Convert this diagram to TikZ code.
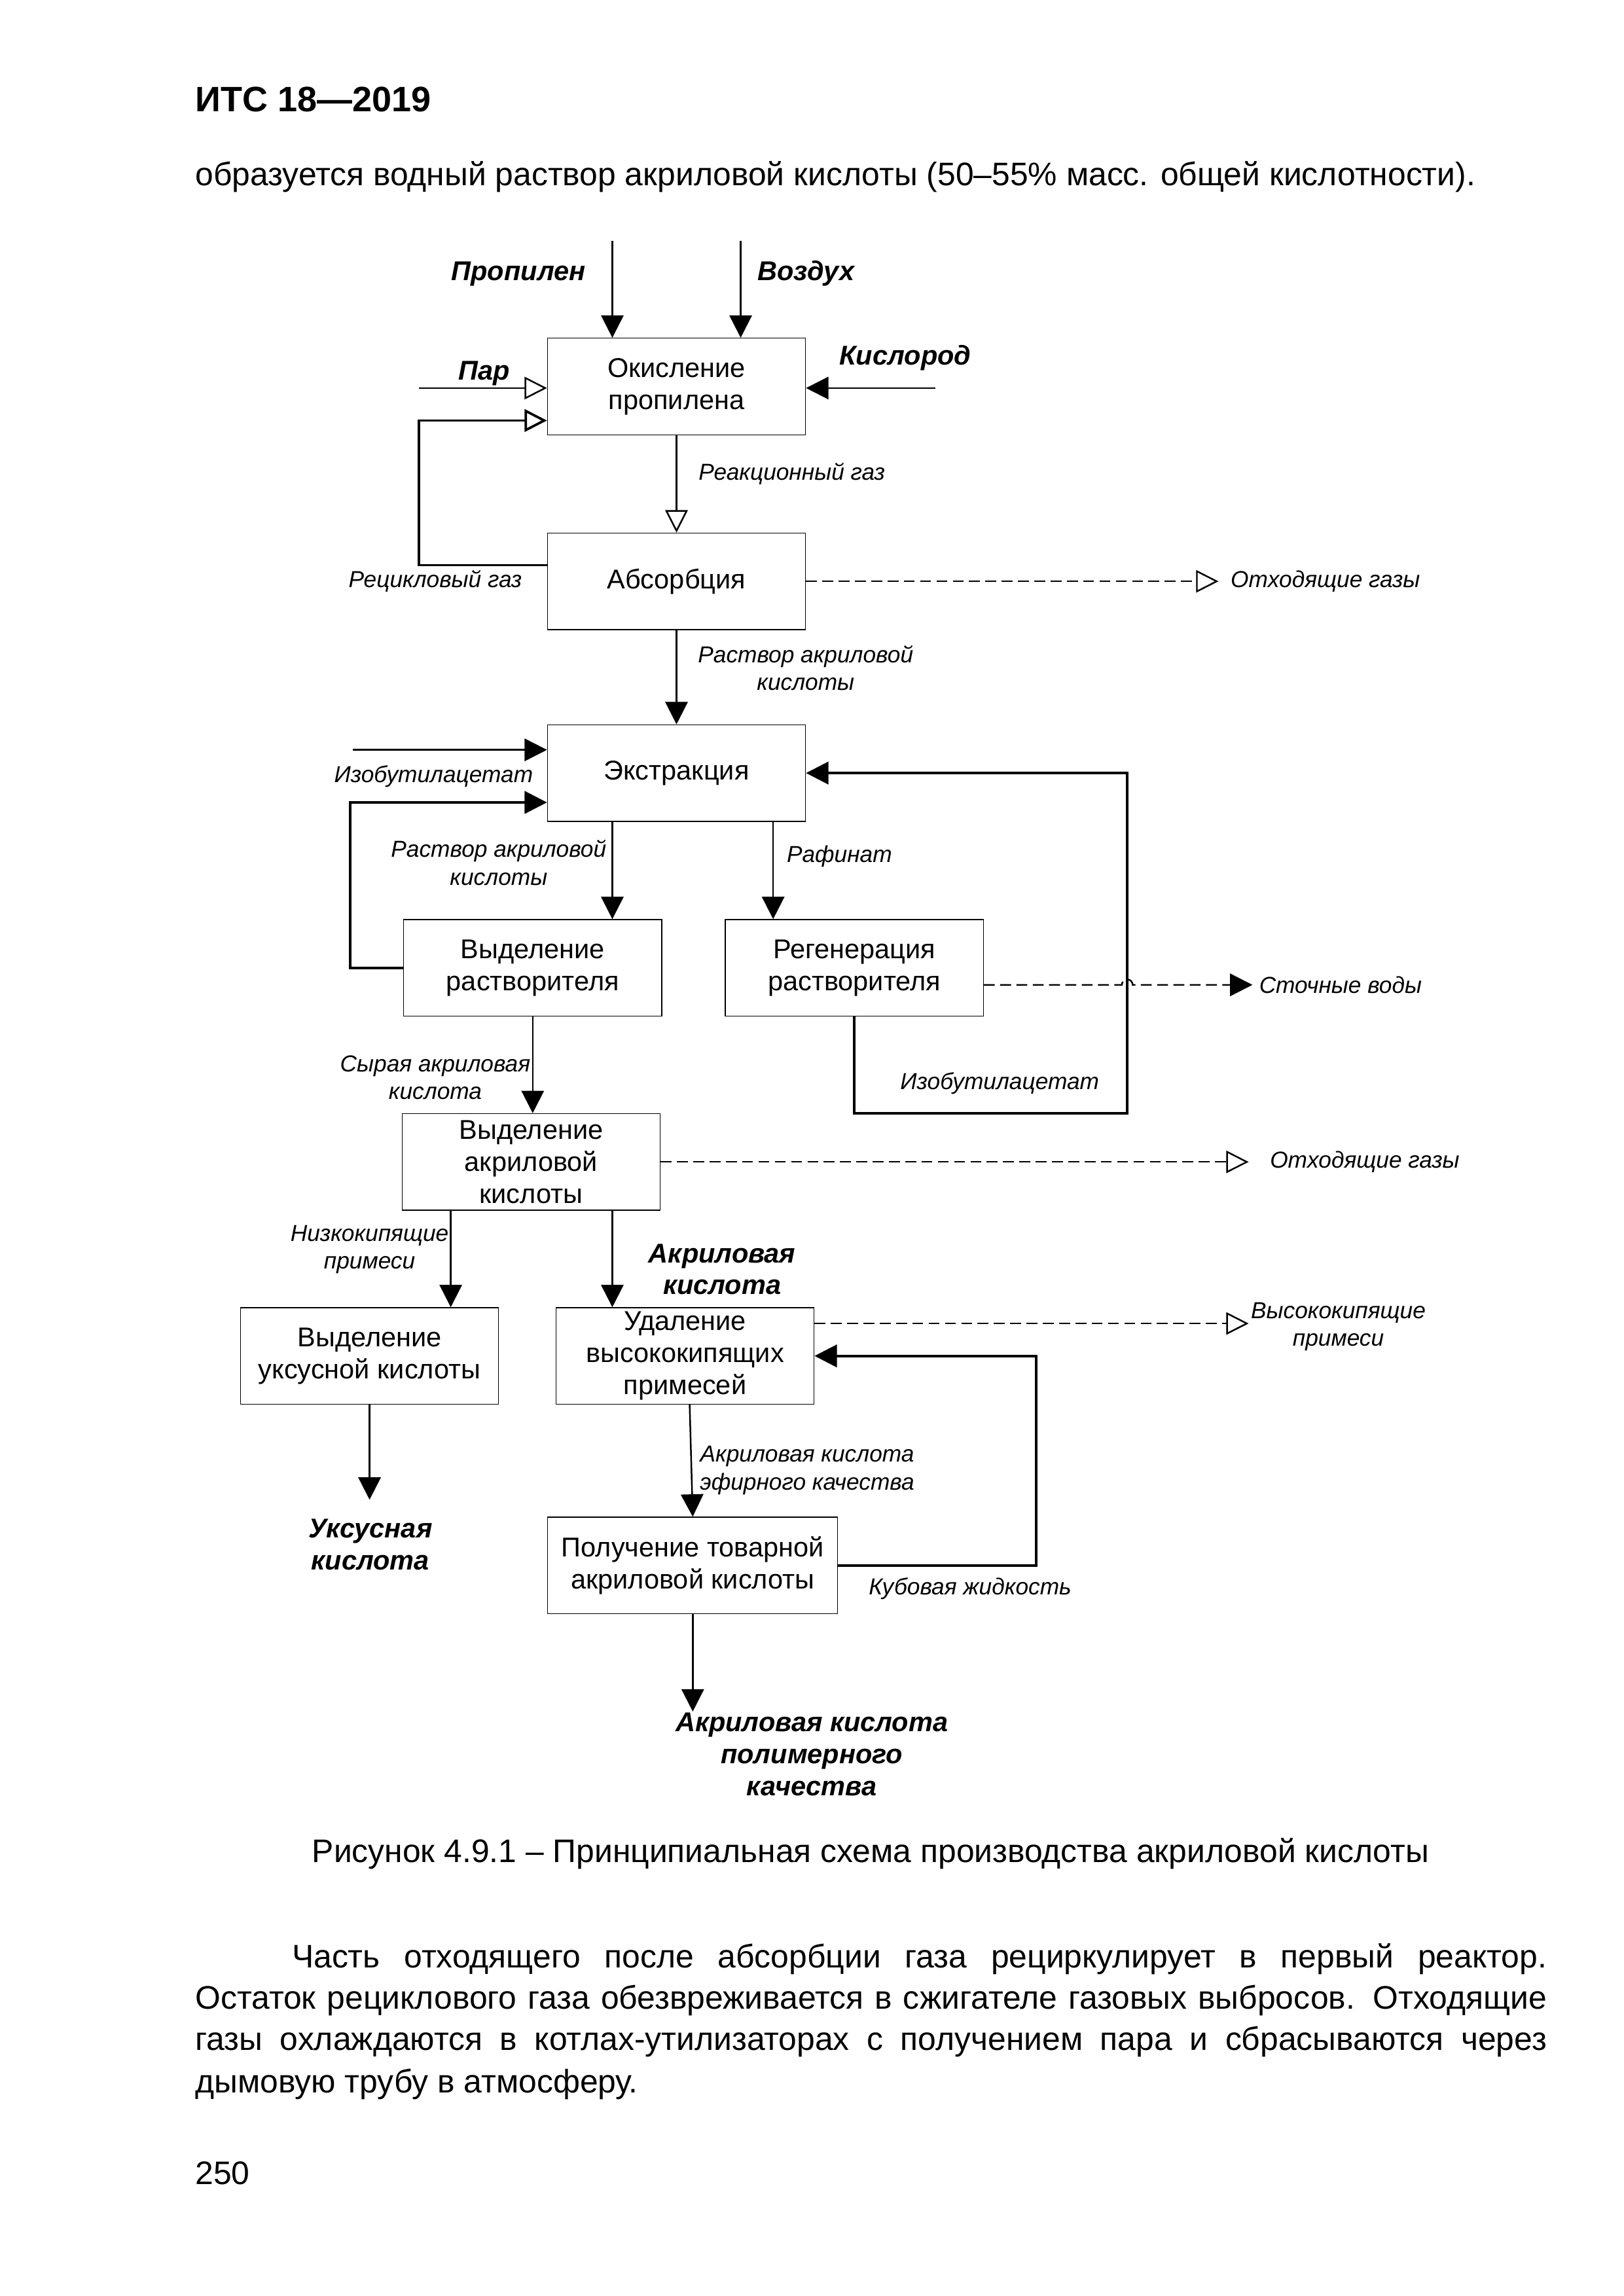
\documentclass[tikz,border=0pt]{standalone}
\usepackage{fontspec}
\setmainfont{Liberation Sans}
\usetikzlibrary{positioning, arrows.meta, calc}

\begin{document}
\begin{tikzpicture}[
    procbox/.style={rectangle, draw=black, line width=0.3pt, minimum width=3.34cm,
                    minimum height=1.25cm, align=center, inner sep=1pt,
                    font=\fontsize{10}{11.8}\selectfont},
    arrow/.style={-{Triangle[length=2.9mm, width=2.9mm]}, line width=0.6pt},
    openarrow/.style={-{Triangle[open, length=2.9mm, width=2.9mm]}, line width=0.6pt},
    loopline/.style={line width=0.9pt},
    dashline/.style={dash pattern=on 4pt off 2pt},
    flowlabel/.style={font=\fontsize{8.5}{10.2}\selectfont\itshape, align=center, inner sep=0pt},
    streamlabel/.style={font=\fontsize{10}{11.8}\selectfont\bfseries\itshape, align=center, inner sep=0pt},
    pagetext/.style={font=\fontsize{12}{14}\selectfont, inner sep=0pt},
    headtext/.style={font=\fontsize{13}{15}\selectfont\bfseries, inner sep=0pt}
]

    \path[use as bounding box, fill=white] (0,0) rectangle (21.0,29.7);

    % Page text
    \node[headtext, anchor=base west] (title) at (2.52,28.26) {ИТС 18—2019};
    \node[pagetext, anchor=base west] (topline) at (2.52,27.30)
        {образуется водный раствор акриловой кислоты (50–55\% масс. общей кислотности).};

    % Process steps
    \node[procbox] (oxid) at (8.75,24.70) {Окисление\\пропилена};
    \node[procbox] (absorb) at (8.75,22.18) {Абсорбция};
    \node[procbox] (extr) at (8.75,19.70) {Экстракция};
    \node[procbox] (solvsep) at (6.89,17.18) {Выделение\\растворителя};
    \node[procbox] (regen) at (11.05,17.18) {Регенерация\\растворителя};
    \node[procbox] (acidsep) at (6.87,14.67) {Выделение\\акриловой\\кислоты};
    \node[procbox] (acetic) at (4.78,12.16) {Выделение\\уксусной кислоты};
    \node[procbox] (heavy) at (8.86,12.16) {Удаление\\высококипящих\\примесей};
    \node[procbox, minimum width=3.75cm] (product) at (8.96,9.45) {Получение товарной\\акриловой кислоты};

    % Free ends
    \coordinate (propin) at (7.92,26.58);
    \coordinate (airin) at (9.58,26.58);
    \coordinate (o2in) at (12.10,24.68);
    \coordinate (steamin) at (5.42,24.68);
    \coordinate (recyc) at (5.42,22.39);
    \coordinate (recyctop) at (5.42,24.26);
    \coordinate (offgas1) at (15.76,22.18);
    \coordinate (ibain) at (4.56,20.00);
    \coordinate (solvloop) at (4.53,19.32);
    \coordinate (ibaloop) at (14.58,15.30);
    \coordinate (wastewater) at (16.20,16.96);
    \coordinate (offgas2) at (16.15,14.67);
    \coordinate (heavyout) at (16.15,12.58);
    \coordinate (botloop) at (13.40,9.45);
    \coordinate (aceticout) at (4.78,10.30);
    \coordinate (productout) at (8.96,7.56);

    % Oxidation inputs
    \draw[arrow] (propin) -- (propin |- oxid.north);
    \draw[arrow] (airin) -- (airin |- oxid.north);
    \draw[arrow] (o2in) -- (o2in -| oxid.east);
    \draw[openarrow] (steamin) -- (steamin -| oxid.west);
    \draw[openarrow, loopline] (absorb.west |- recyc) -- (recyc) -- (recyctop) -- (recyctop -| oxid.west);
    \draw[openarrow] (oxid.south) -- (absorb.north);

    % Absorption
    \draw[openarrow, dashline] (absorb.east) -- (offgas1);
    \draw[arrow] (absorb.south) -- (extr.north);

    % Extraction
    \draw[arrow] (ibain) -- (ibain -| extr.west);
    \draw[arrow, loopline] (solvsep.west) -- (solvsep.west -| solvloop) -- (solvloop) -- (solvloop -| extr.west);
    \draw[arrow] ([xshift=-0.83cm]extr.south) -- ([xshift=-0.83cm]extr.south |- solvsep.north);
    \draw[arrow] ([xshift=1.25cm]extr.south) -- ([xshift=1.25cm]extr.south |- regen.north);
    \draw[arrow, loopline] (regen.south) -- (regen.south |- ibaloop) -- (ibaloop) -- (ibaloop |- extr.east) -- (extr.east);
    \draw[arrow, dashline] ([yshift=-0.22cm]regen.east) -- ([xshift=-0.07cm]wastewater -| ibaloop)
        arc[start angle=180, end angle=0, radius=0.07cm] -- (wastewater);

    % Acrylic acid separation
    \draw[arrow] (solvsep.south) -- (solvsep.south |- acidsep.north);
    \draw[openarrow, dashline] (acidsep.east) -- (offgas2);
    \draw[arrow] ([xshift=-1.04cm]acidsep.south) -- ([xshift=-1.04cm]acidsep.south |- acetic.north);
    \draw[arrow] ([xshift=1.05cm]acidsep.south) -- ([xshift=1.05cm]acidsep.south |- heavy.north);
    \draw[arrow] (acetic.south) -- (aceticout);

    % Heavy ends and product
    \draw[openarrow, dashline] ([yshift=0.42cm]heavy.east) -- (heavyout);
    \draw[arrow] ([xshift=0.06cm]heavy.south) -- (product.north);
    \draw[arrow, loopline] (product.east) -- (botloop) -- (botloop |- heavy.east) -- (heavy.east);
    \draw[arrow] (product.south) -- (productout);

    % Stream labels
    \node[streamlabel, anchor=east] (propl) at (7.58,26.16) {Пропилен};
    \node[streamlabel, anchor=west] (airl) at (9.79,26.16) {Воздух};
    \node[streamlabel, anchor=west] (o2l) at (10.85,25.07) {Кислород};
    \node[streamlabel] (steaml) at (6.26,24.87) {Пар};
    \node[flowlabel] (recycl) at (5.63,22.18) {Рецикловый газ};
    \node[flowlabel, anchor=west] (reacl) at (9.03,23.57) {Реакционный газ};
    \node[flowlabel, anchor=west] (offgas1l) at (15.91,22.18) {Отходящие газы};
    \node[flowlabel] (soll1) at (10.42,21.06) {Раствор акриловой\\кислоты};
    \node[flowlabel, anchor=east] (ibal1) at (6.90,19.66) {Изобутилацетат};
    \node[flowlabel] (soll2) at (6.45,18.54) {Раствор акриловой\\кислоты};
    \node[flowlabel, anchor=west] (raffl) at (10.17,18.62) {Рафинат};
    \node[flowlabel, anchor=west] (wwl) at (16.28,16.96) {Сточные воды};
    \node[flowlabel] (ibal2) at (12.93,15.69) {Изобутилацетат};
    \node[flowlabel] (crudel) at (5.63,15.76) {Сырая акриловая\\кислота};
    \node[flowlabel, anchor=west] (offgas2l) at (16.42,14.67) {Отходящие газы};
    \node[flowlabel] (lightl) at (4.78,13.54) {Низкокипящие\\примеси};
    \node[streamlabel] (acidl) at (9.34,13.28) {Акриловая\\кислота};
    \node[flowlabel] (heavyl) at (17.31,12.54) {Высококипящие\\примеси};
    \node[flowlabel] (esterl) at (10.44,10.68) {Акриловая кислота\\эфирного качества};
    \node[flowlabel, anchor=west] (botl) at (11.23,9.15) {Кубовая жидкость};
    \node[streamlabel] (aceticl) at (4.79,9.72) {Уксусная\\кислота};
    \node[streamlabel] (polyl) at (10.50,7.01) {Акриловая кислота\\полимерного\\качества};

    % Caption and paragraph
    \node[pagetext, anchor=base] (caption) at (11.26,5.61)
        {Рисунок 4.9.1 – Принципиальная схема производства акриловой кислоты};
    \node[pagetext, anchor=base west] (par1) at (2.52,4.25)
        {\makebox[17.48cm][s]{\hspace*{1.25cm}Часть отходящего после абсорбции газа рециркулирует в первый реактор.}};
    \node[pagetext, anchor=base west] (par2) at (2.52,3.715)
        {\makebox[17.48cm][s]{Остаток рециклового газа обезвреживается в сжигателе газовых выбросов. Отходящие}};
    \node[pagetext, anchor=base west] (par3) at (2.52,3.18)
        {\makebox[17.48cm][s]{газы охлаждаются в котлах-утилизаторах с получением пара и сбрасываются через}};
    \node[pagetext, anchor=base west] (par4) at (2.52,2.63) {дымовую трубу в атмосферу.};
    \node[pagetext, anchor=base west] (pagenum) at (2.52,1.44) {250};

\end{tikzpicture}
\end{document}
